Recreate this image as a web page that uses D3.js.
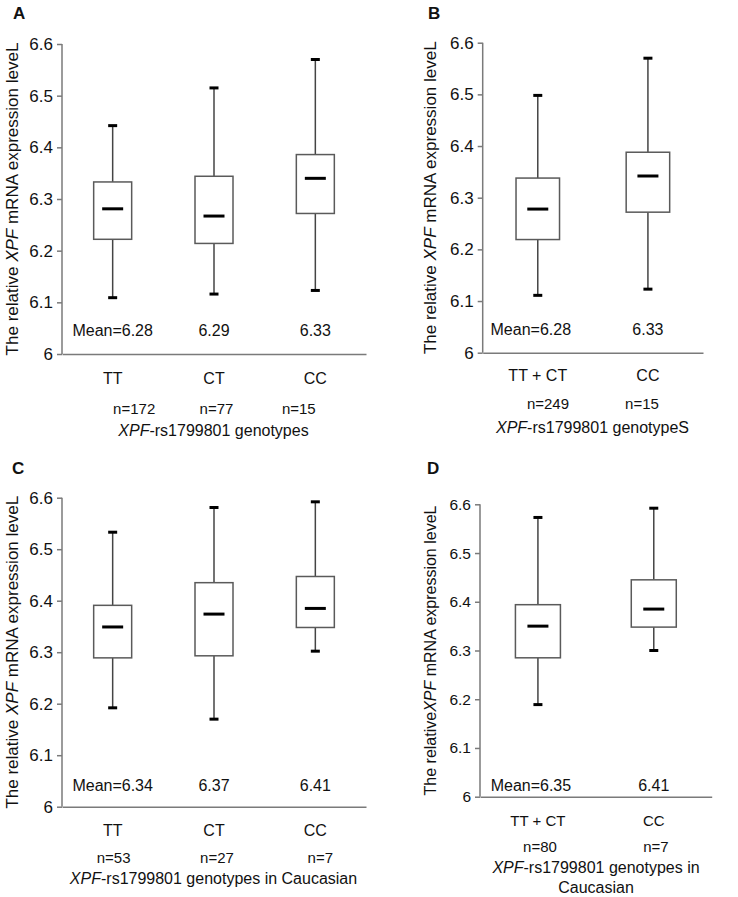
<!DOCTYPE html>
<html><head><meta charset="utf-8">
<script src="https://cdn.jsdelivr.net/npm/d3@7"></script>
<style>body{margin:0;background:#fff}svg{display:block}text{font-family:"Liberation Sans",Arial,sans-serif;fill:#111}</style>
</head><body>
<svg id="c" width="738" height="897"></svg>
<script>
// ---------- data ----------
const yTicks = [6, 6.1, 6.2, 6.3, 6.4, 6.5, 6.6];
const yTickLabels = ["6", "6.1", "6.2", "6.3", "6.4", "6.5", "6.6"];

// each stat row: [whisker low, Q1, median, Q3, whisker high]
const categoriesA = ["TT", "CT", "CC"];
const statsA = [[6.109, 6.222, 6.281, 6.333, 6.442], [6.116, 6.214, 6.267, 6.344, 6.515], [6.123, 6.272, 6.340, 6.386, 6.570]];
const meansA = ["Mean=6.28", "6.29", "6.33"];
const countsA = ["n=172", "n=77", "n=15"];

const categoriesB = ["TT + CT", "CC"];
const statsB = [[6.111, 6.219, 6.278, 6.338, 6.498], [6.123, 6.272, 6.342, 6.388, 6.570]];
const meansB = ["Mean=6.28", "6.33"];
const countsB = ["n=249", "n=15"];

const categoriesC = ["TT", "CT", "CC"];
const statsC = [[6.192, 6.289, 6.349, 6.391, 6.533], [6.170, 6.293, 6.374, 6.435, 6.581], [6.302, 6.348, 6.385, 6.447, 6.592]];
const meansC = ["Mean=6.34", "6.37", "6.41"];
const countsC = ["n=53", "n=27", "n=7"];

const categoriesD = ["TT + CT", "CC"];
const statsD = [[6.189, 6.285, 6.350, 6.394, 6.573], [6.300, 6.348, 6.385, 6.445, 6.592]];
const meansD = ["Mean=6.35", "6.41"];
const countsD = ["n=80", "n=7"];

// ---------- layout ----------
const panels = [
  {letter:"A", cats:categoriesA, stats:statsA, means:meansA, counts:countsA,
   x0:62, x1:366, yT:44, yB:354, boxW:38, letterX:13, letterY:19, ylabX:12, ylabFs:17, tickFs:17,
   meanY:336, catY:384, catFs:16, nY:414, nRange:[93,340], meanShift:0,
   title:["genotypes"], titleX:213.5, titleY:[436], ylabSpace:true},
  {letter:"B", cats:categoriesB, stats:statsB, means:meansB, counts:countsB,
   x0:482.7, x1:703, yT:42.7, yB:352.7, boxW:43.5, letterX:428, letterY:19, ylabX:430, ylabFs:17, tickFs:17,
   meanY:335, catY:381, catFs:16, nY:409, nRange:[501,689], meanShift:-7,
   title:["genotypeS"], titleX:592.5, titleY:[433], ylabSpace:true},
  {letter:"C", cats:categoriesC, stats:statsC, means:meansC, counts:countsC,
   x0:62, x1:366, yT:497.7, yB:806.7, boxW:38, letterX:12, letterY:474, ylabX:12, ylabFs:17, tickFs:17,
   meanY:791, catY:836, catFs:16, nY:863, nRange:[62,372], meanShift:0,
   title:["genotypes in Caucasian"], titleX:213.5, titleY:[883.5], ylabSpace:true},
  {letter:"D", cats:categoriesD, stats:statsD, means:meansD, counts:countsD,
   x0:480, x1:711.7, yT:504.3, yB:796.7, boxW:45, letterX:427, letterY:474, ylabX:430, ylabFs:16, tickFs:15.5,
   meanY:791, catY:826, catFs:15, nY:852, nRange:[482,714], meanShift:-7,
   title:["genotypes in", "Caucasian"], titleX:596, titleY:[873, 893], ylabSpace:false}
];

const svg = d3.select("#c");
const axisCol = "#7a7a7a", boxCol = "#5a5a5a";

panels.forEach(p => {
  const g = svg.append("g");
  const x = d3.scaleBand().domain(p.cats).range([p.x0, p.x1]);
  const xn = d3.scaleBand().domain(p.counts).range(p.nRange);
  const y = d3.scaleLinear().domain([6, 6.6]).range([p.yB, p.yT]);

  // y axis
  const ya = g.append("g").attr("transform", `translate(${p.x0},0)`)
    .call(d3.axisLeft(y).tickValues(yTicks).tickFormat((d, i) => yTickLabels[i]).tickSize(5).tickPadding(4));
  ya.select(".domain").attr("stroke", axisCol).attr("stroke-width", 1.5).attr("d", `M0,${p.yT}V${p.yB}`);
  ya.selectAll(".tick line").attr("stroke", axisCol).attr("stroke-width", 1.5);
  ya.selectAll(".tick text").style("font-size", p.tickFs + "px").attr("fill", "#111")
    .style("font-family", '"Liberation Sans",Arial,sans-serif');

  // x axis line (no ticks)
  const xa = g.append("g").attr("transform", `translate(0,${p.yB})`)
    .call(d3.axisBottom(x).tickSize(0).tickFormat(""));
  xa.select(".domain").attr("stroke", axisCol).attr("stroke-width", 1.5);
  xa.selectAll(".tick").remove();

  // boxes
  const bg = g.selectAll(".bx").data(p.stats).join("g");
  const cx = (d, i) => x(p.cats[i]) + x.bandwidth() / 2;
  bg.append("line").attr("x1", cx).attr("x2", cx)
    .attr("y1", d => y(d[4])).attr("y2", d => y(d[3]))
    .attr("stroke", "#444").attr("stroke-width", 1.5);
  bg.append("line").attr("x1", cx).attr("x2", cx)
    .attr("y1", d => y(d[1])).attr("y2", d => y(d[0]))
    .attr("stroke", "#444").attr("stroke-width", 1.5);
  bg.append("rect").attr("x", (d, i) => cx(d, i) - p.boxW / 2).attr("width", p.boxW)
    .attr("y", d => y(d[3])).attr("height", d => y(d[1]) - y(d[3]))
    .attr("fill", "#fff").attr("stroke", boxCol).attr("stroke-width", 1.5);
  // caps
  [0, 4].forEach(k => {
    bg.append("line").attr("x1", (d, i) => cx(d, i) - 4.5).attr("x2", (d, i) => cx(d, i) + 4.5)
      .attr("y1", d => y(d[k])).attr("y2", d => y(d[k]))
      .attr("stroke", "#000").attr("stroke-width", 3);
  });
  // median
  bg.append("line").attr("x1", (d, i) => cx(d, i) - 10.5).attr("x2", (d, i) => cx(d, i) + 10.5)
    .attr("y1", d => y(d[2])).attr("y2", d => y(d[2]))
    .attr("stroke", "#000").attr("stroke-width", 3);

  // mean labels
  g.selectAll(".mean").data(p.means).join("text")
    .attr("x", (d, i) => x(p.cats[i]) + x.bandwidth() / 2 + (i === 0 ? p.meanShift : 0))
    .attr("y", p.meanY).attr("text-anchor", "middle").style("font-size", "16px").text(d => d);

  // category labels
  g.selectAll(".cat").data(p.cats).join("text")
    .attr("x", d => x(d) + x.bandwidth() / 2).attr("y", p.catY)
    .attr("text-anchor", "middle").style("font-size", p.catFs + "px").text(d => d);

  // n labels
  g.selectAll(".n").data(p.counts).join("text")
    .attr("x", d => xn(d) + xn.bandwidth() / 2).attr("y", p.nY)
    .attr("text-anchor", "middle").style("font-size", "15px").text(d => d);

  // x title
  p.title.forEach((line, li) => {
    const t = g.append("text").attr("x", p.titleX).attr("y", p.titleY[li])
      .attr("text-anchor", "middle").style("font-size", "16px");
    if (li === 0) {
      t.append("tspan").style("font-style", "italic").text("XPF");
      t.append("tspan").text("-rs1799801 " + line);
    } else t.text(line);
  });

  // y label
  const yl = g.append("text")
    .attr("transform", `translate(${p.ylabX},${(p.yT + p.yB) / 2}) rotate(-90)`)
    .attr("text-anchor", "middle").attr("dominant-baseline", "central")
    .style("font-size", p.ylabFs + "px");
  yl.append("tspan").text(p.ylabSpace ? "The relative " : "The relative");
  yl.append("tspan").style("font-style", "italic").text("XPF");
  yl.append("tspan").text(" mRNA expression leveL");

  // panel letter
  g.append("text").attr("x", p.letterX).attr("y", p.letterY)
    .style("font-size", "17px").style("font-weight", "bold").text(p.letter);
});
</script>
</body></html>
